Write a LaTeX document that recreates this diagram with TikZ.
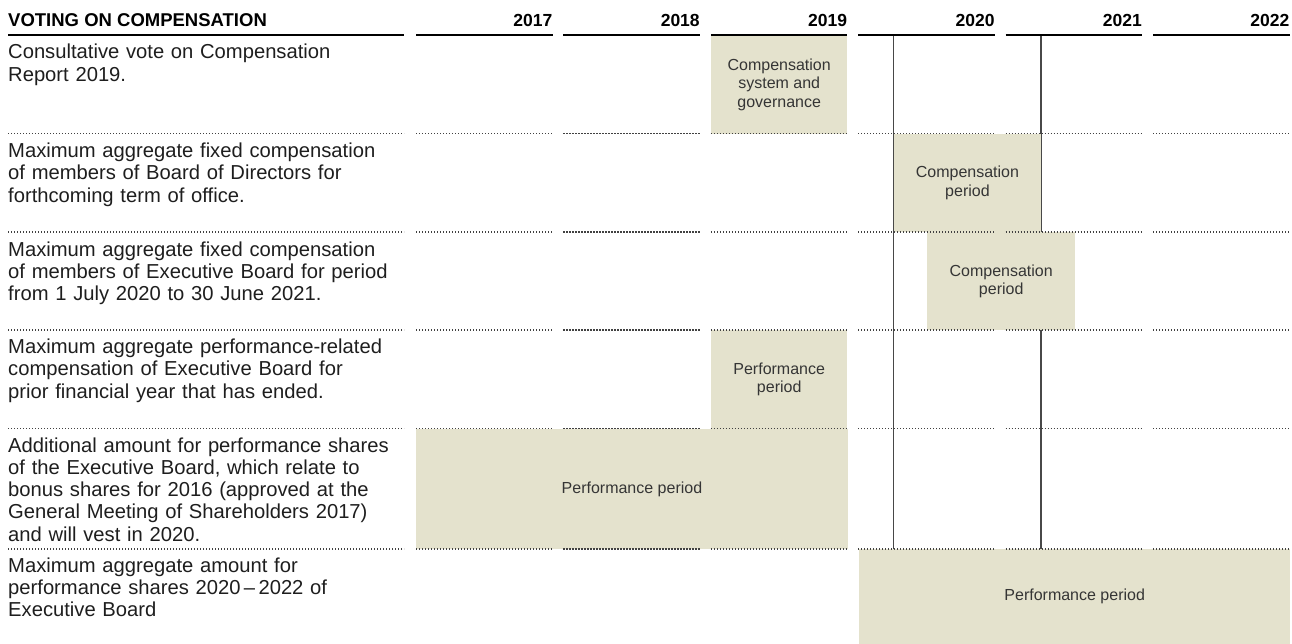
\documentclass[tikz,border=0pt]{standalone}
\usepackage{fontspec}
\setmainfont{Liberation Sans}
\usepackage{tikz}
\usetikzlibrary{positioning}
\definecolor{periodbg}{RGB}{228,226,205}
\definecolor{ink}{RGB}{30,30,30}
\definecolor{midgray}{RGB}{72,72,72}

\begin{document}
\begin{tikzpicture}[x=1pt, y=-1pt,
    item/.style={anchor=base west, inner sep=0pt, text width=400pt, align=left,
                 font=\fontsize{20.2}{22.3}\selectfont, text=ink},
    year/.style={anchor=base east, inner sep=0pt, font=\fontsize{17.5}{20}\selectfont\bfseries},
    period/.style={anchor=north west, inner sep=0pt, fill=periodbg, align=center,
                   font=\fontsize{16}{18.6}\selectfont, text=ink!90},
    headrule/.style={line width=2pt, black},
    sep/.style={line width=1.2pt, midgray!90!black, dash pattern=on 1.2pt off 1.8pt},
    vline/.style={line width=1.8pt, midgray}]
    \useasboundingbox (0,0) rectangle (1292,644);

    % header
    \node[year, anchor=base west, font=\fontsize{18.5}{20}\selectfont\bfseries] (title) at (8,27)
        {VOTING ON COMPENSATION};
    \node[year] (y17) at (552.5,27) {2017};
    \node[year] (y18) at (699.9,27) {2018};
    \node[year] (y19) at (847.3,27) {2019};
    \node[year] (y20) at (994.7,27) {2020};
    \node[year] (y21) at (1142.1,27) {2021};
    \node[year] (y22) at (1289.5,27) {2022};

    % AGM dates
    \coordinate (agm20) at (893.5,35);
    \coordinate (agm20end) at (893.5,549);
    \coordinate (agm21) at (1041,35);
    \coordinate (agm21end) at (1041,549);
    \draw[vline] (agm20) -- (agm20end);
    \draw[vline] (agm21) -- (agm21end);

    % periods
    \node[period, minimum width=136pt, minimum height=98pt] (gov) at (711,35.5)
        {Compensation\\system and\\governance};
    \node[period, minimum width=147.5pt, minimum height=98.5pt] (bodpay) at (893.5,133.5)
        {Compensation\\period};
    \node[period, minimum width=148pt, minimum height=98pt] (ebpay) at (927,232)
        {Compensation\\period};
    \node[period, minimum width=136pt, minimum height=98.5pt] (ebperf) at (711,330)
        {Performance\\period};
    \node[period, minimum width=431.5pt, minimum height=120.5pt] (bonus) at (416,428.5)
        {Performance period};
    \node[period, minimum width=431pt, minimum height=95pt] (psp) at (859,549)
        {Performance period};

    % items
    \node[item] (vote) at (8,59) {Consultative vote on Compensation\\Report 2019.};
    \node[item] (bod) at (8,157.5) {Maximum aggregate fixed compensation\\of members of Board of Directors for\\forthcoming term of office.};
    \node[item] (eb) at (8,256) {Maximum aggregate fixed compensation\\of members of Executive Board for period\\from 1 July 2020 to 30 June 2021.};
    \node[item] (perf) at (8,353.5) {Maximum aggregate performance-related\\compensation of Executive Board for\\prior financial year that has ended.};
    \node[item] (add) at (8,452) {Additional amount for performance shares\\of the Executive Board, which relate to\\bonus shares for 2016 (approved at the\\General Meeting of Shareholders 2017)\\and will vest in 2020.};
    \node[item] (shares) at (8,572) {Maximum aggregate amount for\\performance shares 2020\,–\,2022 of\\Executive Board};

    % rules
    \draw[headrule] (8,35) -- (404,35);
    \foreach \x in {416,563.4,710.8,858.2,1005.6,1153}
        \draw[headrule] (\x,35) -- ++(136.5,0);
    \foreach \y in {133.5,232,330,428.5,549} {
        \draw[sep] (8,\y) -- (404,\y);
        \foreach \x in {416,563.4,710.8,858.2,1005.6,1153}
            \draw[sep] (\x,\y) -- ++(136.5,0);
    }
\end{tikzpicture}
\end{document}
